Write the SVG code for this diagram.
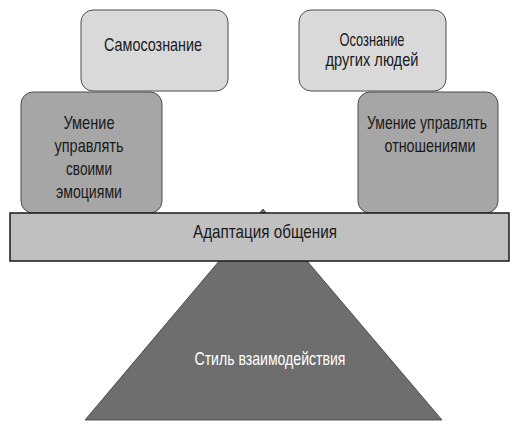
<svg xmlns="http://www.w3.org/2000/svg" width="521" height="438" viewBox="0 0 521 438">
<style>
text{font-family:"Liberation Sans",Arial,sans-serif;font-size:18.5px;text-anchor:middle;fill:#1a1a1a}
.light{fill:#d9d9d9;stroke:#4d4d4d;stroke-width:1}
.dark{fill:#a6a6a6;stroke:#4d4d4d;stroke-width:1}
</style>
<rect width="521" height="438" fill="#ffffff"/>
<g id="style">
<polygon points="263,209 442,420 85,420" fill="#6e6e6e" stroke="#3a3a3a" stroke-width="0.8"/>
<text x="270" y="365" textLength="151" lengthAdjust="spacingAndGlyphs" style="fill:#ffffff">Стиль взаимодействия</text>
</g>
<g id="self-awareness">
<rect class="light" x="81" y="10" width="147" height="81" rx="12"/>
<text x="153" y="51" textLength="98" lengthAdjust="spacingAndGlyphs">Самосознание</text>
</g>
<g id="others-awareness">
<rect class="light" x="299" y="10" width="147" height="81" rx="12"/>
<text x="372" y="46" textLength="65" lengthAdjust="spacingAndGlyphs">Осознание</text>
<text x="372" y="66" textLength="93" lengthAdjust="spacingAndGlyphs">других людей</text>
</g>
<g id="self-management">
<rect class="dark" x="21" y="92" width="141" height="121" rx="12"/>
<text x="89" y="129" textLength="51" lengthAdjust="spacingAndGlyphs">Умение</text>
<text x="89" y="152" textLength="69" lengthAdjust="spacingAndGlyphs">управлять</text>
<text x="89" y="175" textLength="46" lengthAdjust="spacingAndGlyphs">своими</text>
<text x="89" y="198" textLength="66" lengthAdjust="spacingAndGlyphs">эмоциями</text>
</g>
<g id="relationship-management">
<rect class="dark" x="358" y="92" width="140" height="121" rx="12"/>
<text x="427" y="129" textLength="120" lengthAdjust="spacingAndGlyphs">Умение управлять</text>
<text x="430" y="152" textLength="91" lengthAdjust="spacingAndGlyphs">отношениями</text>
</g>
<g id="adaptation">
<rect x="10" y="213" width="499" height="48" fill="#c0c0c0" stroke="#1a1a1a" stroke-width="1.5"/>
<text x="265" y="238" textLength="144" lengthAdjust="spacingAndGlyphs">Адаптация общения</text>
</g>
<g id="connectors"/>
</svg>
